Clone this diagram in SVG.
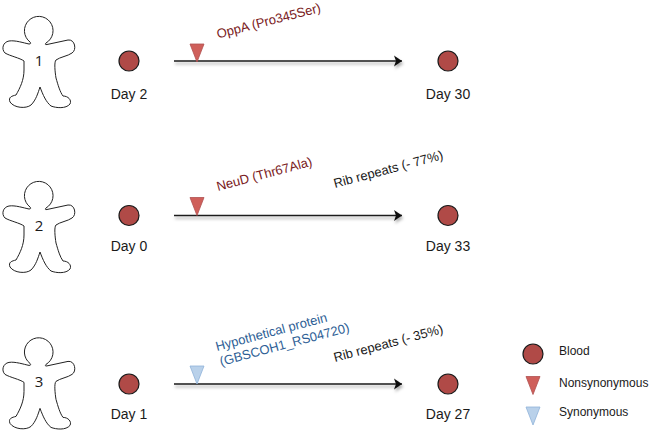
<svg xmlns="http://www.w3.org/2000/svg" width="650" height="432" viewBox="0 0 650 432">
<style>
text{font-family:"Liberation Sans",Arial,sans-serif;fill:#1a1a1a}
.day{font-size:14px;text-anchor:middle}
.num{font-size:15px;text-anchor:middle;font-family:"Open Sans","Liberation Sans",sans-serif}
.lab{font-size:13px}
.leg{font-size:12px}
.red{fill:#7a1a22}
.blue{fill:#2f5f96}
.blood{fill:#b04a47;stroke:#1a1a1a;stroke-width:1.2}
.non{fill:#cf5f5a;stroke:#b05050;stroke-width:.8}
.syn{fill:#b9d1ea;stroke:#8fb3d9;stroke-width:.8}
.body{fill:#fff;stroke:#222;stroke-width:1}
.line{stroke:#1a1a1a;stroke-width:1.5;fill:none;marker-end:url(#arr)}
</style>
<defs>
<marker id="arr" markerUnits="userSpaceOnUse" markerWidth="10" markerHeight="12" refX="8" refY="6" orient="auto"><path d="M0,0.500 L8,6 L0,11.500 L2,6 Z" fill="#111"/></marker>
<filter id="sh" filterUnits="userSpaceOnUse" x="0" y="0" width="650" height="432"><feDropShadow dx="1" dy="2.500" stdDeviation="1.500" flood-color="#000" flood-opacity=".35"/></filter>
<path id="man" d="M30,42 A14.300,14.300 0 1 1 46,43 C45,44 45,45 47,44.500 L68,40 C75,39 77,50 72,53 C68,56 60,57 56,60 C54,62 55,72 56,78 C58,85 60,92 63,96 C68,96 72,100 70,104 C66,109 56,108 51,106 C46,102 43,95 40,87 C38,93 36,100 31,105 C26,109 14,108 10,102 C8,97 12,96 16,95 C20,88 24,80 24,70 L24,61 C20,58 10,56 5,53 C1,49 3,42 9,41 C15,40 24,43 29,44 C31,44 31,43 30,42 Z"/>
<path id="tri" d="M-7,0 H7 L0,18 Z"/>
</defs>
<g id="connectors">
<line class="line" filter="url(#sh)" x1="174" y1="61" x2="402" y2="61"/>
<line class="line" filter="url(#sh)" x1="174" y1="215.500" x2="402" y2="215.500"/>
<line class="line" filter="url(#sh)" x1="174" y1="384" x2="402" y2="384"/>
</g>
<g id="patient1"><use href="#man" class="body"/><text class="num" x="39" y="66">1</text></g>
<g id="patient2"><use href="#man" class="body" y="165"/><text class="num" x="39" y="231">2</text></g>
<g id="patient3"><use href="#man" class="body" y="321.400"/><text class="num" x="39" y="387">3</text></g>
<g id="p1-start"><circle class="blood" cx="129" cy="61" r="10"/><text class="day" x="129" y="99">Day 2</text></g>
<g id="p1-end"><circle class="blood" cx="448" cy="61" r="10"/><text class="day" x="448" y="99">Day 30</text></g>
<g id="p2-start"><circle class="blood" cx="129" cy="215.500" r="10"/><text class="day" x="129" y="250.500">Day 0</text></g>
<g id="p2-end"><circle class="blood" cx="448" cy="215.500" r="10"/><text class="day" x="448" y="250.500">Day 33</text></g>
<g id="p3-start"><circle class="blood" cx="129" cy="384" r="10"/><text class="day" x="129" y="419">Day 1</text></g>
<g id="p3-end"><circle class="blood" cx="448" cy="384" r="10"/><text class="day" x="448" y="419">Day 27</text></g>
<g id="mut1"><use href="#tri" class="non" x="197" y="44"/><text class="lab red" transform="translate(218,38.500) rotate(-14.500)">OppA (Pro345Ser)</text></g>
<g id="mut2"><use href="#tri" class="non" x="197" y="197.500"/><text class="lab red" transform="translate(218,191) rotate(-15)">NeuD (Thr67Ala)</text></g>
<g id="rib2"><text class="lab" transform="translate(335,188) rotate(-15)">Rib repeats (- 77%)</text></g>
<g id="mut3"><use href="#tri" class="syn" x="197" y="366"/><text class="lab blue" transform="translate(217,351) rotate(-15)">Hypothetical protein</text><text class="lab blue" transform="translate(221,366) rotate(-15)">(GBSCOH1_RS04720)</text></g>
<g id="rib3"><text class="lab" transform="translate(335,362) rotate(-15)">Rib repeats (- 35%)</text></g>
<g id="legend-blood"><circle class="blood" cx="533" cy="354" r="10"/><text class="leg" x="559" y="355">Blood</text></g>
<g id="legend-non"><use href="#tri" class="non" x="533" y="376.500"/><text class="leg" x="559" y="387">Nonsynonymous</text></g>
<g id="legend-syn"><use href="#tri" class="syn" x="533" y="407"/><text class="leg" x="559" y="416">Synonymous</text></g>
</svg>
